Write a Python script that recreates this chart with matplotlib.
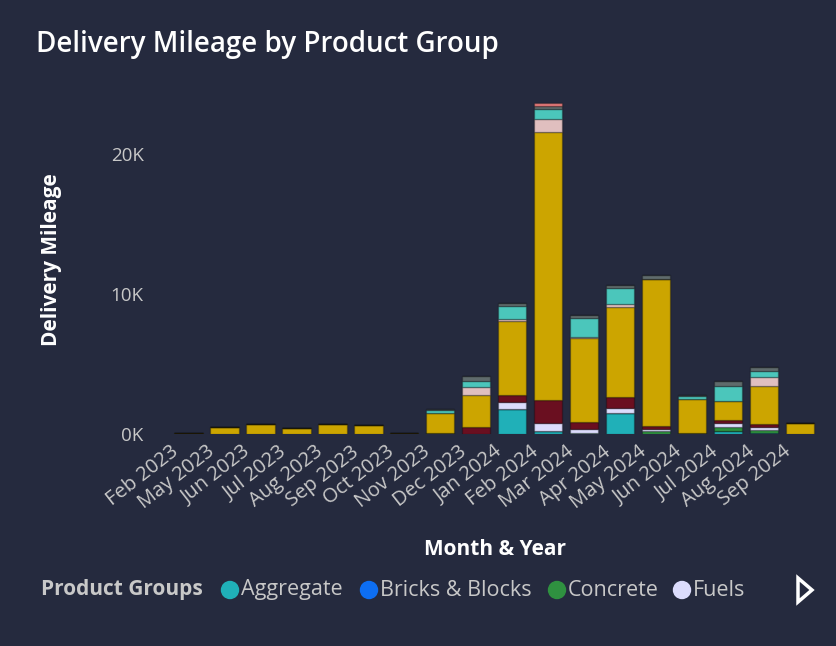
import numpy as np
import matplotlib
matplotlib.use("Agg")
import matplotlib.pyplot as plt
from matplotlib.patches import Ellipse
from matplotlib.ticker import FuncFormatter, FixedLocator
import matplotlib.transforms as mtransforms

# months on the x axis
months = ["Feb 2023", "May 2023", "Jun 2023", "Jul 2023", "Aug 2023", "Sep 2023",
          "Oct 2023", "Nov 2023", "Dec 2023", "Jan 2024", "Feb 2024", "Mar 2024",
          "Apr 2024", "May 2024", "Jun 2024", "Jul 2024", "Aug 2024", "Sep 2024"]

# delivery mileage per product group (stack order bottom -> top)
aggregate = [0, 0, 0, 0, 0, 0, 0, 70, 0, 1790, 190, 0, 1500, 0, 70, 190, 0, 0]
bricks = [0, 0, 0, 0, 0, 0, 0, 0, 0, 0, 0, 0, 0, 0, 0, 0, 60, 0]
concrete = [0, 0, 0, 0, 0, 0, 0, 0, 30, 0, 0, 50, 0, 190, 0, 330, 240, 0]
fuels = [0, 0, 0, 0, 0, 0, 0, 0, 0, 520, 600, 290, 360, 210, 0, 260, 190, 0]
insulation = [0, 0, 0, 0, 0, 0, 0, 0, 500, 480, 1620, 500, 810, 210, 0, 240, 240, 0]
lumber = [60, 520, 740, 430, 690, 640, 70, 1430, 2260, 5310, 19140, 6020, 6400,
          10450, 2430, 1330, 2690, 790]
paint = [0, 0, 0, 0, 0, 0, 0, 0, 570, 120, 980, 70, 210, 0, 0, 50, 690, 0]
sand = [0, 0, 0, 0, 0, 0, 0, 190, 430, 900, 670, 1360, 1190, 0, 190, 1070, 430, 0]
stone = [0, 0, 0, 0, 0, 0, 0, 120, 330, 240, 260, 210, 190, 290, 100, 290, 240, 0]
tiles = [0, 0, 0, 0, 0, 0, 0, 0, 0, 0, 170, 0, 0, 0, 0, 0, 0, 0]

series = [
    ("Aggregate", aggregate, "#20b0b8"),
    ("Bricks & Blocks", bricks, "#0d6ef2"),
    ("Concrete", concrete, "#2f9140"),
    ("Fuels", fuels, "#dcdcfc"),
    ("Insulation", insulation, "#6a0f20"),
    ("Lumber", lumber, "#cca500"),
    ("Paint", paint, "#e0bfbf"),
    ("Sand", sand, "#4bc6bb"),
    ("Stone", stone, "#5f6b6c"),
    ("Tiles", tiles, "#e57a7a"),
]
legend_shown = 4

bg = "#252a3e"
tick_col = "#c8c8c8"
plt.rcParams["font.family"] = ["Open Sans", "DejaVu Sans"]

W, H = 837, 646
fig = plt.figure(figsize=(W / 100, H / 100), dpi=100)
fig.patch.set_facecolor(bg)
ax = fig.add_axes([0.1947, 0.328, 0.7826, 0.531])
ax.set_facecolor(bg)

x = np.arange(len(months))
bottom = np.zeros(len(months))
for name, vals, col in series:
    vals = np.array(vals, dtype=float)
    ax.bar(x, vals, width=0.8, bottom=bottom, color=col, label=name,
           edgecolor=(0, 0, 0, 0.25), linewidth=1)
    bottom += vals

ax.set_xlim(-0.7, 17.5)
ax.set_ylim(0, 24500)
ax.yaxis.set_major_locator(FixedLocator([0, 10000, 20000]))
ax.yaxis.set_major_formatter(FuncFormatter(lambda v, p: f"{v/1000:.0f}K"))
ax.set_xticks(x)
ax.set_xticklabels(months, rotation=38, ha="right", va="top",
                   rotation_mode="anchor")
ax.tick_params(axis="both", length=0, colors=tick_col, labelsize=13.5)
ax.tick_params(axis="x", labelsize=14.5, pad=5.5)
ax.tick_params(axis="y", pad=14)
shift = mtransforms.ScaledTranslation(-18 / 100, 0, fig.dpi_scale_trans)
for lbl in ax.get_xticklabels():
    lbl.set_transform(lbl.get_transform() + shift)
for s in ax.spines.values():
    s.set_visible(False)

fig.text(52 / W, 0.598, "Delivery Mileage", rotation=90, color="white",
         fontsize=15, fontweight="bold", ha="center", va="center")
fig.text(495 / W, 0.15, "Month & Year", color="white", fontsize=15,
         fontweight="bold", ha="center", va="center")
fig.text(36 / W, 1 - 52 / H, "Delivery Mileage by Product Group", color="white",
         fontsize=20, fontweight="semibold", ha="left", va="baseline")

# legend row
ly = 1 - 590 / H
fig.text(41 / W, ly, "Product Groups", color=tick_col, fontsize=15,
         fontweight="bold", ha="left", va="center")
circ_x = [230, 369, 557, 682]
for (name, vals, col), px in zip(series[:legend_shown], circ_x):
    fig.patches.append(Ellipse((px / W, ly), 17 / W, 17 / H, color=col,
                               transform=fig.transFigure, figure=fig))
    fig.text((px + 11) / W, ly, name, color=tick_col, fontsize=15.5,
             ha="left", va="center")

arrow = plt.Polygon([[798 / W, 1 - 578 / H], [812 / W, 1 - 590 / H],
                     [798 / W, 1 - 602 / H]],
                    closed=True, fill=False, edgecolor="white", linewidth=2.5,
                    transform=fig.transFigure)
fig.patches.append(arrow)

fig.savefig("out.png", dpi=100, facecolor=bg)
